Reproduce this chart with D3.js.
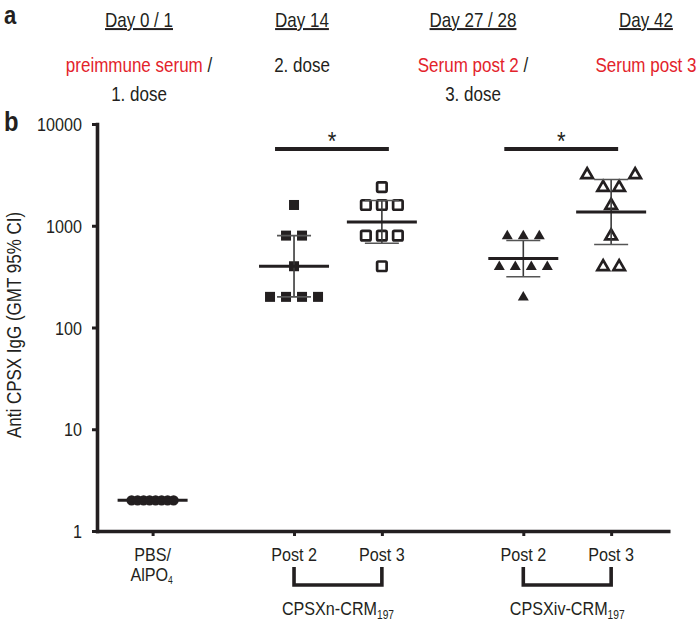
<!DOCTYPE html>
<html><head><meta charset="utf-8">
<script src="https://cdn.jsdelivr.net/npm/d3@7"></script>
<style>
body{margin:0;background:#fff}
text{font-family:"Liberation Sans",Arial,Helvetica,sans-serif;fill:#231f20}
</style>
</head><body><svg id="c" width="700" height="621"></svg>
<script>
// ---------------- data ----------------
const categories = ["PBS/AlPO4", "CPSXn Post 2", "CPSXn Post 3", "CPSXiv Post 2", "CPSXiv Post 3"];
const tickLabels = ["Post 2", "Post 3"];
const groupLabels = ["CPSXn-CRM", "CPSXiv-CRM"];
const groupSub = "197";
const pbsValues      = [2, 2, 2, 2, 2, 2, 2, 2];
const nPost2Values   = [1600, 800, 800, 400, 200, 200, 200, 200];
const nPost3Values   = [2400, 1600, 1600, 1600, 800, 800, 800, 400];
const ivPost2Values  = [800, 800, 800, 400, 400, 400, 400, 200];
const ivPost3Values  = [3200, 3200, 2400, 2400, 1600, 800, 400, 400];
const yTicks = [1, 10, 100, 1000, 10000];
const yTitle = "Anti CPSX IgG (GMT 95% CI)";
const sigLabel = "*";
const dayLabels = ["Day 0 / 1", "Day 14", "Day 27 / 28", "Day 42"];
const eventRed = ["preimmune serum", "", "Serum post 2", "Serum post 3"];
const eventBlack = [" /", "2. dose", " /", ""];
const eventLine2 = ["1. dose", "", "3. dose", ""];
const tCrit = 2.365; // t(0.975, df=7)

// ---------------- layout ----------------
const RED = "#e3232b";
const INK = "#231f20";
const SX = 0.85; // condensed text
const svg = d3.select("#c");
const groupOf = [0, 1, 1, 2, 2];
const memberOf = [0, 0, 1, 0, 1];
const groupGap = 1.61;
const slot = categories.map((c, i) => groupOf[i] * groupGap + memberOf[i] + (groupOf[i] === 2 ? 1 : 0));
const x = d3.scaleLinear().domain([-0.65, 5.89]).range([95.5, 670]);
const y = d3.scaleLog().domain([1, 10000]).range([531, 124]);

function txt(px, py, size, anchor, rot) {
  return svg.append("text")
    .attr("transform", `translate(${px},${py})${rot ? " rotate(" + rot + ")" : ""} scale(${SX},1)`)
    .attr("text-anchor", anchor || "middle").style("font-size", size + "px");
}

// panel letters
txt(4, 24, 26, "start").style("font-weight", "bold").text("a");
txt(4, 131, 28, "start").style("font-weight", "bold").text("b");

// timeline
const timelineX = [139, 302, 473, 646];
dayLabels.forEach((d, i) => {
  txt(timelineX[i], 27, 20).style("text-decoration", "underline").text(d);
  const t = txt(timelineX[i], 72, 20);
  if (eventRed[i]) t.append("tspan").style("fill", RED).text(eventRed[i]);
  if (eventBlack[i]) t.append("tspan").text(eventBlack[i]);
  if (eventLine2[i]) txt(timelineX[i], 101, 20).text(eventLine2[i]);
});

// axes
const yAxis = svg.append("g").attr("transform", "translate(97,0)")
  .call(d3.axisLeft(y).tickValues(yTicks).tickFormat(d3.format("d")).tickSize(5).tickSizeOuter(0).tickPadding(10));
yAxis.select(".domain").attr("stroke", INK).attr("stroke-width", 3.6).attr("stroke-linecap", "square");
yAxis.selectAll(".tick line").attr("stroke", INK).attr("stroke-width", 3);
yAxis.selectAll(".tick text").style("font-size", "19px").style("font-family", "'Liberation Sans',Arial,sans-serif")
  .attr("fill", INK).attr("x", null).attr("dy", "0.35em").attr("transform", `translate(-15,0) scale(${SX},1)`);

const xAxis = svg.append("g").attr("transform", "translate(0,531)")
  .call(d3.axisBottom(x).tickValues(slot).tickFormat("").tickSize(5).tickSizeOuter(0));
xAxis.select(".domain").attr("stroke", INK).attr("stroke-width", 3.6);
xAxis.selectAll(".tick line").attr("stroke", INK).attr("stroke-width", 3);

// y title
txt(21, 325, 20, "middle", -90).text(yTitle);

// x labels
txt(x(slot[0]), 561, 19).text("PBS/");
const alT = txt(x(slot[0]) - 1, 581, 19);
alT.append("tspan").text("AlPO");
alT.append("tspan").attr("dy", 3).style("font-size", "10px").text("4");
[1, 2, 3, 4].forEach(i => { txt(x(slot[i]), 561, 19).text(tickLabels[memberOf[i]]); });

// brackets + group labels
[[1, 2], [3, 4]].forEach((pair, gi) => {
  const x1 = x(slot[pair[0]]), x2 = x(slot[pair[1]]);
  svg.append("path").attr("d", d3.line()([[x1, 567], [x1, 585], [x2, 585], [x2, 567]]))
    .attr("fill", "none").attr("stroke", INK).attr("stroke-width", 3.6);
  const g = txt((x1 + x2) / 2, 615, 19);
  g.append("tspan").text(groupLabels[gi]);
  g.append("tspan").attr("dy", 4).style("font-size", "12px").text(groupSub);
});

// ---------------- data marks ----------------
const series = [
  {vals: pbsValues, shape: "circle", filled: true, sp: 6, size: 10},
  {vals: nPost2Values, shape: "square", filled: true, sp: 16, size: 11},
  {vals: nPost3Values, shape: "square", filled: false, sp: 16, size: 12},
  {vals: ivPost2Values, shape: "triangle", filled: true, sp: 16, size: 11},
  {vals: ivPost3Values, shape: "triangle", filled: false, sp: 16, size: 14}
];

function layout(s) {
  const rows = d3.groups(s.vals, v => v).sort((a, b) => a[0] - b[0]);
  const placed = [], out = [];
  rows.forEach(([v, arr]) => {
    const k = arr.length, py = y(v);
    let offs;
    for (let j = 0; j < 10; j++) {
      offs = d3.range(k).map(i => {
        const o = (i - (k - 1) / 2) * s.sp;
        return o === 0 ? o : o + Math.sign(o) * j * s.sp;
      });
      const clash = offs.some(o => placed.some(p => Math.abs(p.y - py) < s.size && Math.abs(p.dx - o) < s.size));
      if (!clash) break;
    }
    offs.forEach(o => { placed.push({y: py, dx: o}); out.push({v, dx: o}); });
  });
  return out;
}

function stats(vals) {
  const logs = vals.map(Math.log10);
  const m = d3.mean(logs), sd = d3.deviation(logs), n = logs.length;
  const h = tCrit * sd / Math.sqrt(n);
  return {gmt: Math.pow(10, m), lo: Math.pow(10, m - h), hi: Math.pow(10, m + h)};
}

const tri = d3.symbol().type(d3.symbolTriangle);
series.forEach((s, i) => {
  const cx = x(slot[i]);
  const g = svg.append("g");
  layout(s).forEach(p => {
    const px = cx + p.dx, py = y(p.v);
    let el;
    if (s.shape === "circle") {
      el = g.append("circle").attr("cx", px).attr("cy", py).attr("r", 5.2);
    } else if (s.shape === "square") {
      const w = s.filled ? 10 : 9.5;
      el = g.append("rect").attr("x", px - w / 2).attr("y", py - w / 2).attr("width", w).attr("height", w)
        .attr("rx", s.filled ? 0 : 1.2);
    } else {
      const w = s.filled ? 11 : 11.5;
      const area = Math.sqrt(3) / 4 * w * w;
      el = g.append("path").attr("d", tri.size(area)()).attr("transform", `translate(${px},${py + 0.5})`);
    }
    if (s.filled) el.attr("fill", INK);
    else el.attr("fill", "#fff").attr("stroke", INK).attr("stroke-width", 2.7).attr("stroke-linejoin", "miter");
  });
  const st = stats(s.vals);
  if (st.hi / st.lo > 1.0001) {
    g.append("line").attr("x1", cx).attr("x2", cx).attr("y1", y(st.hi)).attr("y2", y(st.lo))
      .attr("stroke", "#3a3a3a").attr("stroke-width", 1.6);
    [st.hi, st.lo].forEach(v => g.append("line").attr("x1", cx - 17).attr("x2", cx + 17).attr("y1", y(v)).attr("y2", y(v))
      .attr("stroke", "#555").attr("stroke-width", 1.6));
  }
  g.append("line").attr("x1", cx - 35).attr("x2", cx + 35).attr("y1", y(st.gmt)).attr("y2", y(st.gmt))
    .attr("stroke", INK).attr("stroke-width", 3);
});

// significance bars
[[1, 2], [3, 4]].forEach(pair => {
  const x1 = x(slot[pair[0]]) - 19, x2 = x(slot[pair[1]]) + 7;
  svg.append("line").attr("x1", x1).attr("x2", x2).attr("y1", 149).attr("y2", 149)
    .attr("stroke", INK).attr("stroke-width", 4);
  txt((x1 + x2) / 2, 150, 26).text(sigLabel);
});
</script></body></html>
